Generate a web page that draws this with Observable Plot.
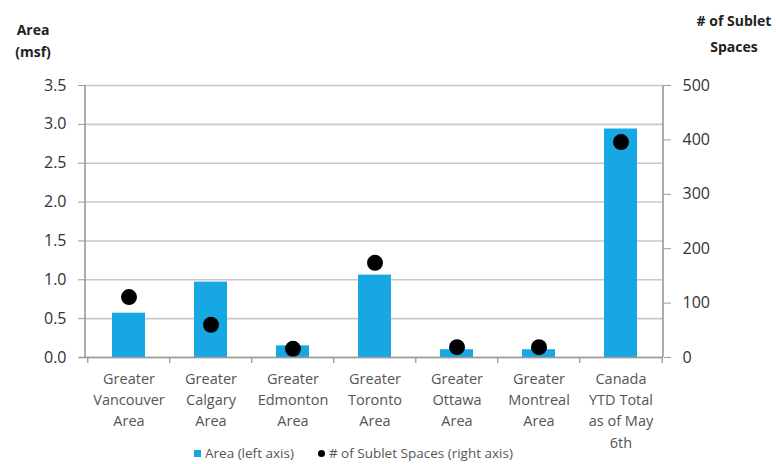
<!DOCTYPE html>
<html><head><meta charset="utf-8">
<script src="https://cdn.jsdelivr.net/npm/d3@7"></script>
<script src="https://cdn.jsdelivr.net/npm/@observablehq/plot@0.6"></script>
<style>
body{margin:0;background:#fff;}
#wrap{position:relative;width:776px;height:464px;font-family:"Open Sans",sans-serif;}
.t{position:absolute;font-weight:bold;font-size:14px;color:#222;text-align:center;white-space:nowrap;}
#legend{position:absolute;left:194px;top:443px;font-size:13.5px;color:#555;white-space:nowrap;line-height:18px;}
#legend span{display:inline-block;vertical-align:middle;}
</style></head>
<body><div id="wrap"></div>
<script>
const categories = ["Greater\nVancouver\nArea","Greater\nCalgary\nArea","Greater\nEdmonton\nArea","Greater\nToronto\nArea","Greater\nOttawa\nArea","Greater\nMontreal\nArea","Canada\nYTD Total\nas of May\n6th"];
const areaMsf = [0.57, 0.97, 0.15, 1.06, 0.10, 0.10, 2.94];
const subletSpaces = [111, 60, 16, 174, 19, 19, 396];
const leftTicks = [0, 0.5, 1.0, 1.5, 2.0, 2.5, 3.0, 3.5];
const rightTicks = [0, 100, 200, 300, 400, 500];

const W = 776, H = 464, mL = 85, mR = 113, mT = 85, mB = 107;
const leftMax = 3.5, rightMax = 500;
const toLeft = v => v * leftMax / rightMax;
const data = categories.map((c, i) => ({c, area: areaMsf[i], sub: subletSpaces[i]}));
const step = (W - mL - mR) / categories.length;
const pxPerUnit = (H - mT - mB) / leftMax;

const chart = Plot.plot({
  width: W, height: H,
  marginLeft: mL, marginRight: mR, marginTop: mT, marginBottom: mB,
  style: {fontFamily: "Open Sans, sans-serif", background: "#fff"},
  x: {type: "band", domain: categories, paddingInner: 0.6, paddingOuter: 0.3, axis: null, label: null},
  y: {domain: [0, leftMax], axis: null, label: null},
  marks: [
    Plot.ruleY(leftTicks, {stroke: "#c8c8c8", strokeWidth: 1.6}),
    Plot.barY(data, {x: "c", y: "area", fill: "#17a8e3"}),
    Plot.dot(data, {x: "c", y: d => toLeft(d.sub), r: 8, fill: "#000"}),
    Plot.ruleX(categories, {x: d => d, dx: -step / 2, y1: 0, y2: -6 / pxPerUnit, stroke: "#999", strokeWidth: 1.3}),
    Plot.ruleX([categories[categories.length - 1]], {x: d => d, dx: step / 2, y1: 0, y2: -6 / pxPerUnit, stroke: "#999", strokeWidth: 1.3}),
    Plot.ruleY([0], {stroke: "#999", strokeWidth: 1.6, insetLeft: -6}),
    Plot.axisY({anchor: "left", label: null, ticks: leftTicks, tickFormat: d => d.toFixed(1), tickSize: 7, tickPadding: 12, fontSize: 16, color: "#999", fill: "#333"}),
    Plot.axisY({anchor: "right", label: null, ticks: rightTicks.map(toLeft), tickFormat: d => String(Math.round(d * rightMax / leftMax)), tickSize: 7, tickPadding: 12, fontSize: 16, color: "#999", fill: "#333"}),
    Plot.axisX({label: null, tickSize: 0, tickPadding: 12, fontSize: 14.5, lineHeight: 1.45, fill: "#555"})
  ]
});
const wrap = document.getElementById("wrap");
chart.style.position = "absolute"; chart.style.left = "0"; chart.style.top = "0";
wrap.appendChild(chart);
// vertical axis lines
const svg = d3.select(chart);
svg.append("line").attr("x1", mL).attr("x2", mL).attr("y1", mT).attr("y2", H - mB).attr("stroke", "#999").attr("stroke-width", 1.6);
svg.append("line").attr("x1", W - mR).attr("x2", W - mR).attr("y1", mT).attr("y2", H - mB).attr("stroke", "#999").attr("stroke-width", 1.6);

const lt = document.createElement("div"); lt.className = "t";
lt.style.left = "3px"; lt.style.top = "19px"; lt.style.width = "60px"; lt.style.lineHeight = "22px";
lt.innerHTML = "Area<br>(msf)"; wrap.appendChild(lt);
const rt = document.createElement("div"); rt.className = "t";
rt.style.left = "689px"; rt.style.top = "8px"; rt.style.width = "90px"; rt.style.lineHeight = "26px";
rt.innerHTML = "# of Sublet<br>Spaces"; wrap.appendChild(rt);
const lg = document.createElement("div"); lg.id = "legend";
lg.innerHTML = '<span style="width:7px;height:7px;background:#17a8e3;margin-right:4px"></span><span>Area (left axis)</span><span style="width:7px;height:7px;border-radius:50%;background:#000;margin-left:24px;margin-right:4px"></span><span># of Sublet Spaces (right axis)</span>';
wrap.appendChild(lg);
</script></body></html>
